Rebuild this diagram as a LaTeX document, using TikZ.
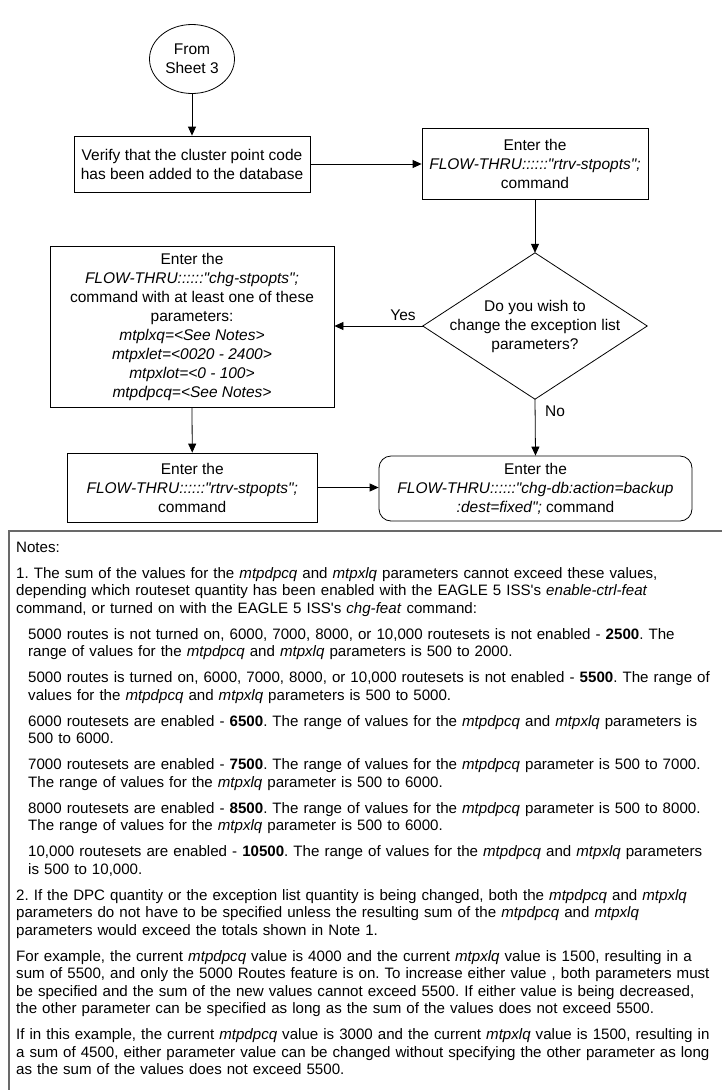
\documentclass[tikz,border=0pt]{standalone}
\usepackage{fontspec}
\setmainfont{Liberation Sans}[Ligatures=TeXOff]
\usetikzlibrary{arrows.meta,shapes.geometric}
\newcommand\flowfont{\fontsize{15.5}{19}\selectfont}
\newcommand\notefont{\fontsize{15.1}{17.5}\selectfont\frenchspacing}
\newcommand\ind{\hspace*{12pt}}
\definecolor{notegray}{RGB}{105,105,105}
\tikzset{
  flow/.style={draw=black, line width=0.8pt, align=center, inner sep=0pt, font=\flowfont},
  procbox/.style={flow, rectangle},
  roundbox/.style={flow, rectangle, rounded corners=12pt},
  termcircle/.style={flow, ellipse},
  arr/.style={draw=black, line width=0.8pt, -{Triangle[length=9pt,width=8pt]}},
  lbl/.style={font=\flowfont, inner sep=0pt},
  noteline/.style={draw=notegray, line width=1.5pt},
}
\begin{document}
\begin{tikzpicture}[x=1pt,y=-1pt]
\useasboundingbox (0,0) rectangle (721,1090);
\fill[white] (0,0) rectangle (721,1090);

\node[termcircle, minimum width=85pt, minimum height=69pt] (start) at (192,59) {From\\Sheet 3};
\node[procbox, minimum width=236pt, minimum height=56pt] (verify) at (192,164)
  {Verify that the cluster point code\\has been added to the database};
\node[procbox, minimum width=226pt, minimum height=71pt] (rtrvA) at (535,163.5)
  {Enter the\\\textit{FLOW-THRU::::::"rtrv-stpopts";}\\command};
\node[lbl, minimum width=224pt, minimum height=146pt, align=center] (dec) at (535,326)
  {Do you wish to\\change the exception list\\parameters?};
\draw[line width=0.8pt] (dec.north) -- (dec.east) -- (dec.south) -- (dec.west) -- cycle;
\node[procbox, minimum width=284pt, minimum height=161pt] (chg) at (192,326.5)
  {Enter the\\\textit{FLOW-THRU::::::"chg-stpopts";}\\command with at least one of these\\parameters:\\
   \textit{mtplxq=<See Notes>}\\\textit{mtpxlet=<0020 - 2400>}\\\textit{mtpxlot=<0 - 100>}\\\textit{mtpdpcq=<See Notes>}};
\node[procbox, minimum width=249.5pt, minimum height=69pt] (rtrvB) at (192.25,487.5)
  {Enter the\\\textit{FLOW-THRU::::::"rtrv-stpopts";}\\command};
\node[roundbox, minimum width=313pt, minimum height=65pt] (backup) at (535.5,488.5)
  {Enter the\\\textit{FLOW-THRU::::::"chg-db:action=backup}\\\textit{:dest=fixed";} command};

\node[lbl] (yes) at (403,315) {Yes};
\node[lbl] (no) at (555,411) {No};

\draw[arr] (start.south) -- (verify.north);
\draw[arr] (verify.east) -- (verify.east -| rtrvA.west);
\draw[arr] (rtrvA.south) -- (dec.north);
\draw[arr] (dec.west) -- (dec.west -| chg.east);
\draw[arr] (dec.south) -- (backup.north);
\draw[arr] (chg.south) -- (rtrvB.north);
\draw[arr] (rtrvB.east) -- (rtrvB.east -| backup.west);

\coordinate (nTR) at (722,531);
\coordinate (nTL) at (9,531);
\coordinate (nBL) at (9,1091);
\draw[noteline] (nTR) -- (nTL) -- (nBL);

\node[anchor=north west, inner sep=0pt, text width=740pt, align=left, font=\notefont] (notes) at (16,541.6) {%
Notes:\\[8.5pt]
1. The sum of the values for the \textit{mtpdpcq} and \textit{mtpxlq} parameters cannot exceed these values,\\
depending which routeset quantity has been enabled with the EAGLE 5 ISS's \textit{enable-ctrl-feat}\\
command, or turned on with the EAGLE 5 ISS's \textit{chg-feat} command:\\[8.5pt]
\ind 5000 routes is not turned on, 6000, 7000, 8000, or 10,000 routesets is not enabled - \textbf{2500}. The\\
\ind range of values for the \textit{mtpdpcq} and \textit{mtpxlq} parameters is 500 to 2000.\\[8.5pt]
\ind 5000 routes is turned on, 6000, 7000, 8000, or 10,000 routesets is not enabled - \textbf{5500}. The range of\\
\ind values for the \textit{mtpdpcq} and \textit{mtpxlq} parameters is 500 to 5000.\\[8.5pt]
\ind 6000 routesets are enabled - \textbf{6500}. The range of values for the \textit{mtpdpcq} and \textit{mtpxlq} parameters is\\
\ind 500 to 6000.\\[8.5pt]
\ind 7000 routesets are enabled - \textbf{7500}. The range of values for the \textit{mtpdpcq} parameter is 500 to 7000.\\
\ind The range of values for the \textit{mtpxlq} parameter is 500 to 6000.\\[8.5pt]
\ind 8000 routesets are enabled - \textbf{8500}. The range of values for the \textit{mtpdpcq} parameter is 500 to 8000.\\
\ind The range of values for the \textit{mtpxlq} parameter is 500 to 6000.\\[8.5pt]
\ind 10,000 routesets are enabled - \textbf{10500}. The range of values for the \textit{mtpdpcq} and \textit{mtpxlq} parameters\\
\ind is 500 to 10,000.\\[8.5pt]
2. If the DPC quantity or the exception list quantity is being changed, both the \textit{mtpdpcq} and \textit{mtpxlq}\\
parameters do not have to be specified unless the resulting sum of the \textit{mtpdpcq} and \textit{mtpxlq}\\
parameters would exceed the totals shown in Note 1.\\[8.5pt]
For example, the current \textit{mtpdpcq} value is 4000 and the current \textit{mtpxlq} value is 1500, resulting in a\\
sum of 5500, and only the 5000 Routes feature is on. To increase either value , both parameters must\\
be specified and the sum of the new values cannot exceed 5500. If either value is being decreased,\\
the other parameter can be specified as long as the sum of the values does not exceed 5500.\\[8.5pt]
If in this example, the current \textit{mtpdpcq} value is 3000 and the current \textit{mtpxlq} value is 1500, resulting in\\
a sum of 4500, either parameter value can be changed without specifying the other parameter as long\\
as the sum of the values does not exceed 5500.};
\end{tikzpicture}
\end{document}
